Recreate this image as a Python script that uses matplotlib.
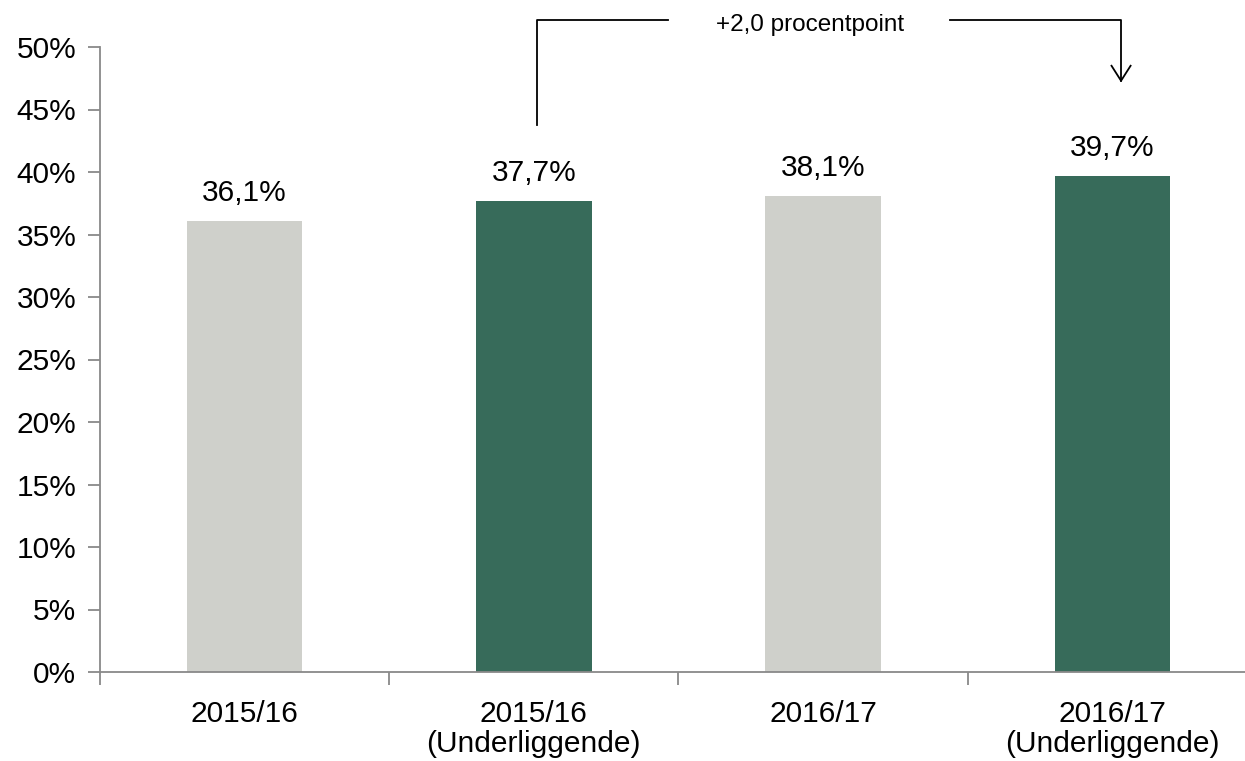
import matplotlib
matplotlib.use("Agg")
import matplotlib.pyplot as plt
from matplotlib.ticker import FixedLocator, PercentFormatter

plt.rcParams['font.family'] = ['Liberation Sans', 'DejaVu Sans']

categories = ["2015/16", "2015/16\n(Underliggende)", "2016/17", "2016/17\n(Underliggende)"]
values = [36.1, 37.7, 38.1, 39.7]
value_labels = ["36,1%", "37,7%", "38,1%", "39,7%"]
bar_colors = ["#CFD0CB", "#376B5A", "#CFD0CB", "#376B5A"]
yticks = [0, 5, 10, 15, 20, 25, 30, 35, 40, 45, 50]
annotation_text = "+2,0 procentpoint"

fig = plt.figure(figsize=(12.45, 7.61), dpi=100)
ax = fig.add_axes([100/1245, 89/761, 1157/1245, 625/761])

x = list(range(len(categories)))
ax.bar(x, values, width=0.4, color=bar_colors, zorder=2)

for xi, v, lab in zip(x, values, value_labels):
    ax.annotate(lab, (xi, v), xytext=(0, 10), textcoords="offset points",
                ha="center", va="bottom", fontsize=21.5)

ax.set_xlim(-0.5, 3.5)
ax.set_ylim(0, 50)
ax.set_yticks(yticks)
ax.yaxis.set_major_formatter(PercentFormatter(decimals=0))
ax.set_xticks(x)
ax.set_xticklabels(categories, fontsize=21.5, linespacing=1.12)
ax.xaxis.set_minor_locator(FixedLocator([-0.5, 0.5, 1.5, 2.5]))
ax.tick_params(axis='x', which='major', length=0, pad=20)
ax.tick_params(axis='x', which='minor', length=9, width=1.3, color="#898989", direction='out')
ax.tick_params(axis='y', length=9, width=1.3, color="#898989", labelsize=21.5, pad=8)

for s in ["top", "right"]:
    ax.spines[s].set_visible(False)
for s in ["left", "bottom"]:
    ax.spines[s].set_color("#898989")
    ax.spines[s].set_linewidth(1.3)

# bracket annotation
lw = 1.3
ax.plot([1.01, 1.01, 1.465], [43.8, 52.2, 52.2], color="black", lw=lw, clip_on=False)
ax.plot([2.44, 3.03, 3.03], [52.2, 52.2, 47.3], color="black", lw=lw, clip_on=False)
ax.plot([2.997, 3.03, 3.063], [48.5, 47.3, 48.5], color="black", lw=lw, clip_on=False)
ax.text(1.955, 51.75, annotation_text, ha="center", va="center", fontsize=17.5)

fig.savefig("out.png", dpi=100)
